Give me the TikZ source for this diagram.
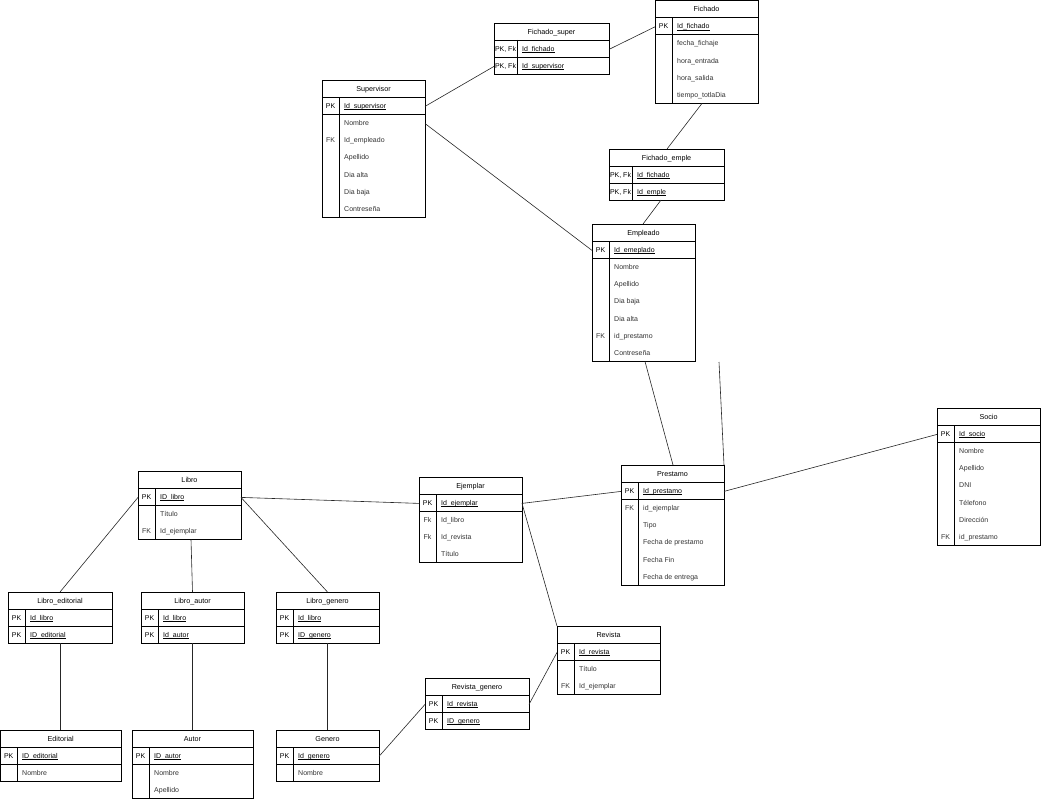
\documentclass[tikz,border=0pt]{standalone}
\usepackage{fontspec}
\setmainfont{Liberation Sans}
\usetikzlibrary{calc}
\tikzset{
  tbl/.style={draw=black, line width=0.8pt, inner sep=0pt, outer sep=0pt, anchor=north west},
  sep/.style={draw=black, line width=0.8pt},
  txt/.style={font=\fontsize{7}{8.4}\selectfont, text=black!80, inner sep=0pt, text height=5.2pt, text depth=1.5pt, yshift=-0.9pt},
  title/.style={txt, anchor=center, font=\fontsize{7.2}{8.6}\selectfont, text=black},
  keyt/.style={txt, anchor=center},
  pkkey/.style={keyt, text=black},
  attr/.style={txt, anchor=west},
  pkattr/.style={attr, text=black},
  conn/.style={draw=black!85, line width=0.6pt},
}
\newcommand\erul[1]{\underline{\smash{#1}}}
\newcommand\ertab[8]{%
  \def\erN{#1}\def\erX{#2}\def\erY{#3}\def\erK{#5}\def\erP{#7}%
  \pgfmathsetmacro\erH{17+17*#7+17.25*#8}%
  \node[tbl, minimum width=#4pt, minimum height=\erH pt] (#1) at (#2,#3) {};
  \node[title] (#1-t) at ({#2+#4/2},{#3+8.5}) {#6};
  \draw[sep] (#2,{#3+17}) -- ({#2+#4},{#3+17});
  \draw[sep] ({#2+#5},{#3+17}) -- ({#2+#5},{#3+\erH});
  \foreach \k in {1,...,#7} {\draw[sep] (#2,{#3+17+17*\k}) -- ({#2+#4},{#3+17+17*\k});}
}
\newcommand\pkrow[3]{%
  \node[pkkey] (\erN-p#1k) at ({\erX+\erK/2},{\erY+17+17*(#1-0.5)}) {#2};
  \node[pkattr] (\erN-p#1a) at ({\erX+\erK+5},{\erY+17+17*(#1-0.5)}) {\erul{#3}};
}
\newcommand\arow[3]{%
  \node[keyt] (\erN-a#1k) at ({\erX+\erK/2},{\erY+17+17*\erP+17.25*(#1-0.5)}) {#2};
  \node[attr] (\erN-a#1a) at ({\erX+\erK+5},{\erY+17+17*\erP+17.25*(#1-0.5)}) {#3};
}
\begin{document}
\begin{tikzpicture}[x=1pt, y=-1pt]
\useasboundingbox (0,0) rectangle (1041,800);

% Supervisor
\ertab{sup}{322}{80}{103}{17}{Supervisor}{1}{6}
\pkrow{1}{PK}{Id\_supervisor}
\arow{1}{}{Nombre}
\arow{2}{FK}{Id\_empleado}
\arow{3}{}{Apellido}
\arow{4}{}{Dia alta}
\arow{5}{}{Dia baja}
\arow{6}{}{Contreseña}

% Fichado_super
\ertab{fs}{494}{23}{115}{23}{Fichado\_super}{2}{0}
\pkrow{1}{PK, Fk}{Id\_fichado}
\pkrow{2}{PK, Fk}{Id\_supervisor}

% Fichado
\ertab{fich}{655}{0.4}{103}{17}{Fichado}{1}{4}
\pkrow{1}{PK}{Id\_fichado}
\arow{1}{}{fecha\_fichaje}
\arow{2}{}{hora\_entrada}
\arow{3}{}{hora\_salida}
\arow{4}{}{tiempo\_totlaDia}

% Fichado_emple
\ertab{fe}{609}{149}{115}{23}{Fichado\_emple}{2}{0}
\pkrow{1}{PK, Fk}{Id\_fichado}
\pkrow{2}{PK, Fk}{Id\_emple}

% Empleado
\ertab{emp}{592}{224}{103}{17}{Empleado}{1}{6}
\pkrow{1}{PK}{Id\_emeplado}
\arow{1}{}{Nombre}
\arow{2}{}{Apellido}
\arow{3}{}{Dia baja}
\arow{4}{}{Dia alta}
\arow{5}{FK}{id\_prestamo}
\arow{6}{}{Contreseña}

% Libro
\ertab{libro}{138}{471}{103}{17}{Libro}{1}{2}
\pkrow{1}{PK}{ID\_libro}
\arow{1}{}{Título}
\arow{2}{FK}{Id\_ejemplar}

% Ejemplar
\ertab{ej}{419}{477}{103}{17}{Ejemplar}{1}{3}
\pkrow{1}{PK}{Id\_ejemplar}
\arow{1}{Fk}{Id\_libro}
\arow{2}{Fk}{Id\_revista}
\arow{3}{}{Título}

% Prestamo
\ertab{pres}{621}{465}{103}{17}{Prestamo}{1}{5}
\pkrow{1}{PK}{Id\_prestamo}
\arow{1}{FK}{id\_ejemplar}
\arow{2}{}{Tipo}
\arow{3}{}{Fecha de prestamo}
\arow{4}{}{Fecha Fin}
\arow{5}{}{Fecha de entrega}

% Socio
\ertab{socio}{937}{408}{103}{17}{Socio}{1}{6}
\pkrow{1}{PK}{Id\_socio}
\arow{1}{}{Nombre}
\arow{2}{}{Apellido}
\arow{3}{}{DNI}
\arow{4}{}{Télefono}
\arow{5}{}{Dirección}
\arow{6}{FK}{id\_prestamo}

% Libro_editorial
\ertab{le}{8}{592}{104}{17}{Libro\_editorial}{2}{0}
\pkrow{1}{PK}{Id\_libro}
\pkrow{2}{PK}{ID\_editorial}

% Libro_autor
\ertab{la}{141}{592}{103}{17}{Libro\_autor}{2}{0}
\pkrow{1}{PK}{Id\_libro}
\pkrow{2}{PK}{Id\_autor}

% Libro_genero
\ertab{lg}{276}{592}{103}{17}{Libro\_genero}{2}{0}
\pkrow{1}{PK}{Id\_libro}
\pkrow{2}{PK}{ID\_genero}

% Editorial
\ertab{ed}{0.4}{730}{120.6}{16.6}{Editorial}{1}{1}
\pkrow{1}{PK}{ID\_editorial}
\arow{1}{}{Nombre}

% Autor
\ertab{au}{132}{730}{121}{17}{Autor}{1}{2}
\pkrow{1}{PK}{ID\_autor}
\arow{1}{}{Nombre}
\arow{2}{}{Apellido}

% Genero
\ertab{gen}{276}{730}{103}{17}{Genero}{1}{1}
\pkrow{1}{PK}{Id\_genero}
\arow{1}{}{Nombre}

% Revista_genero
\ertab{rg}{425}{678}{104}{17}{Revista\_genero}{2}{0}
\pkrow{1}{PK}{Id\_revista}
\pkrow{2}{PK}{ID\_genero}

% Revista
\ertab{rev}{557}{626}{103}{17}{Revista}{1}{2}
\pkrow{1}{PK}{Id\_revista}
\arow{1}{}{Título}
\arow{2}{FK}{Id\_ejemplar}

% connectors
\coordinate (dangle) at (719,362);
\draw[conn] (sup.east |- sup-p1k) -- (fs.west |- fs-p2k);
\draw[conn] (fs.east |- fs-p1k) -- (fich.west |- fich-p1k);
\draw[conn] ($(fich.south west)+(47,0)$) -- ($(fe.north west)+(58,0)$);
\draw[conn] ($(fe.south west)+(52,0)$) -- ($(emp.north west)+(51,0)$);
\draw[conn] (sup.east |- sup-a1k) -- (emp.west |- emp-p1k);
\draw[conn] ($(emp.south west)+(53,0)$) -- ($(pres.north west)+(52,0)$);
\draw[conn] (dangle) -- (pres.north east);
\draw[conn] (ej.east |- ej-p1k) -- (pres.west |- pres-p1k);
\draw[conn] (pres.east |- pres-p1k) -- (socio.west |- socio-p1k);
\draw[conn] (libro.east |- libro-p1k) -- (ej.west |- ej-p1k);
\draw[conn] (ej.east |- ej-p1k) -- (rev.north west);
\draw[conn] (rg.east |- rg-p1k) -- (rev.west |- rev-p1k);
\draw[conn] (gen.east |- gen-p1k) -- (rg.west |- rg-p1k);
\draw[conn] (libro.west |- libro-p1k) -- (le.north);
\draw[conn] ($(libro.south west)+(53,0)$) -- (la.north);
\draw[conn] (libro.east |- libro-p1k) -- (lg.north);
\draw[conn] (le.south) -- (ed.north -| le.south);
\draw[conn] (la.south) -- (au.north -| la.south);
\draw[conn] (lg.south) -- (gen.north);
\end{tikzpicture}
\end{document}
